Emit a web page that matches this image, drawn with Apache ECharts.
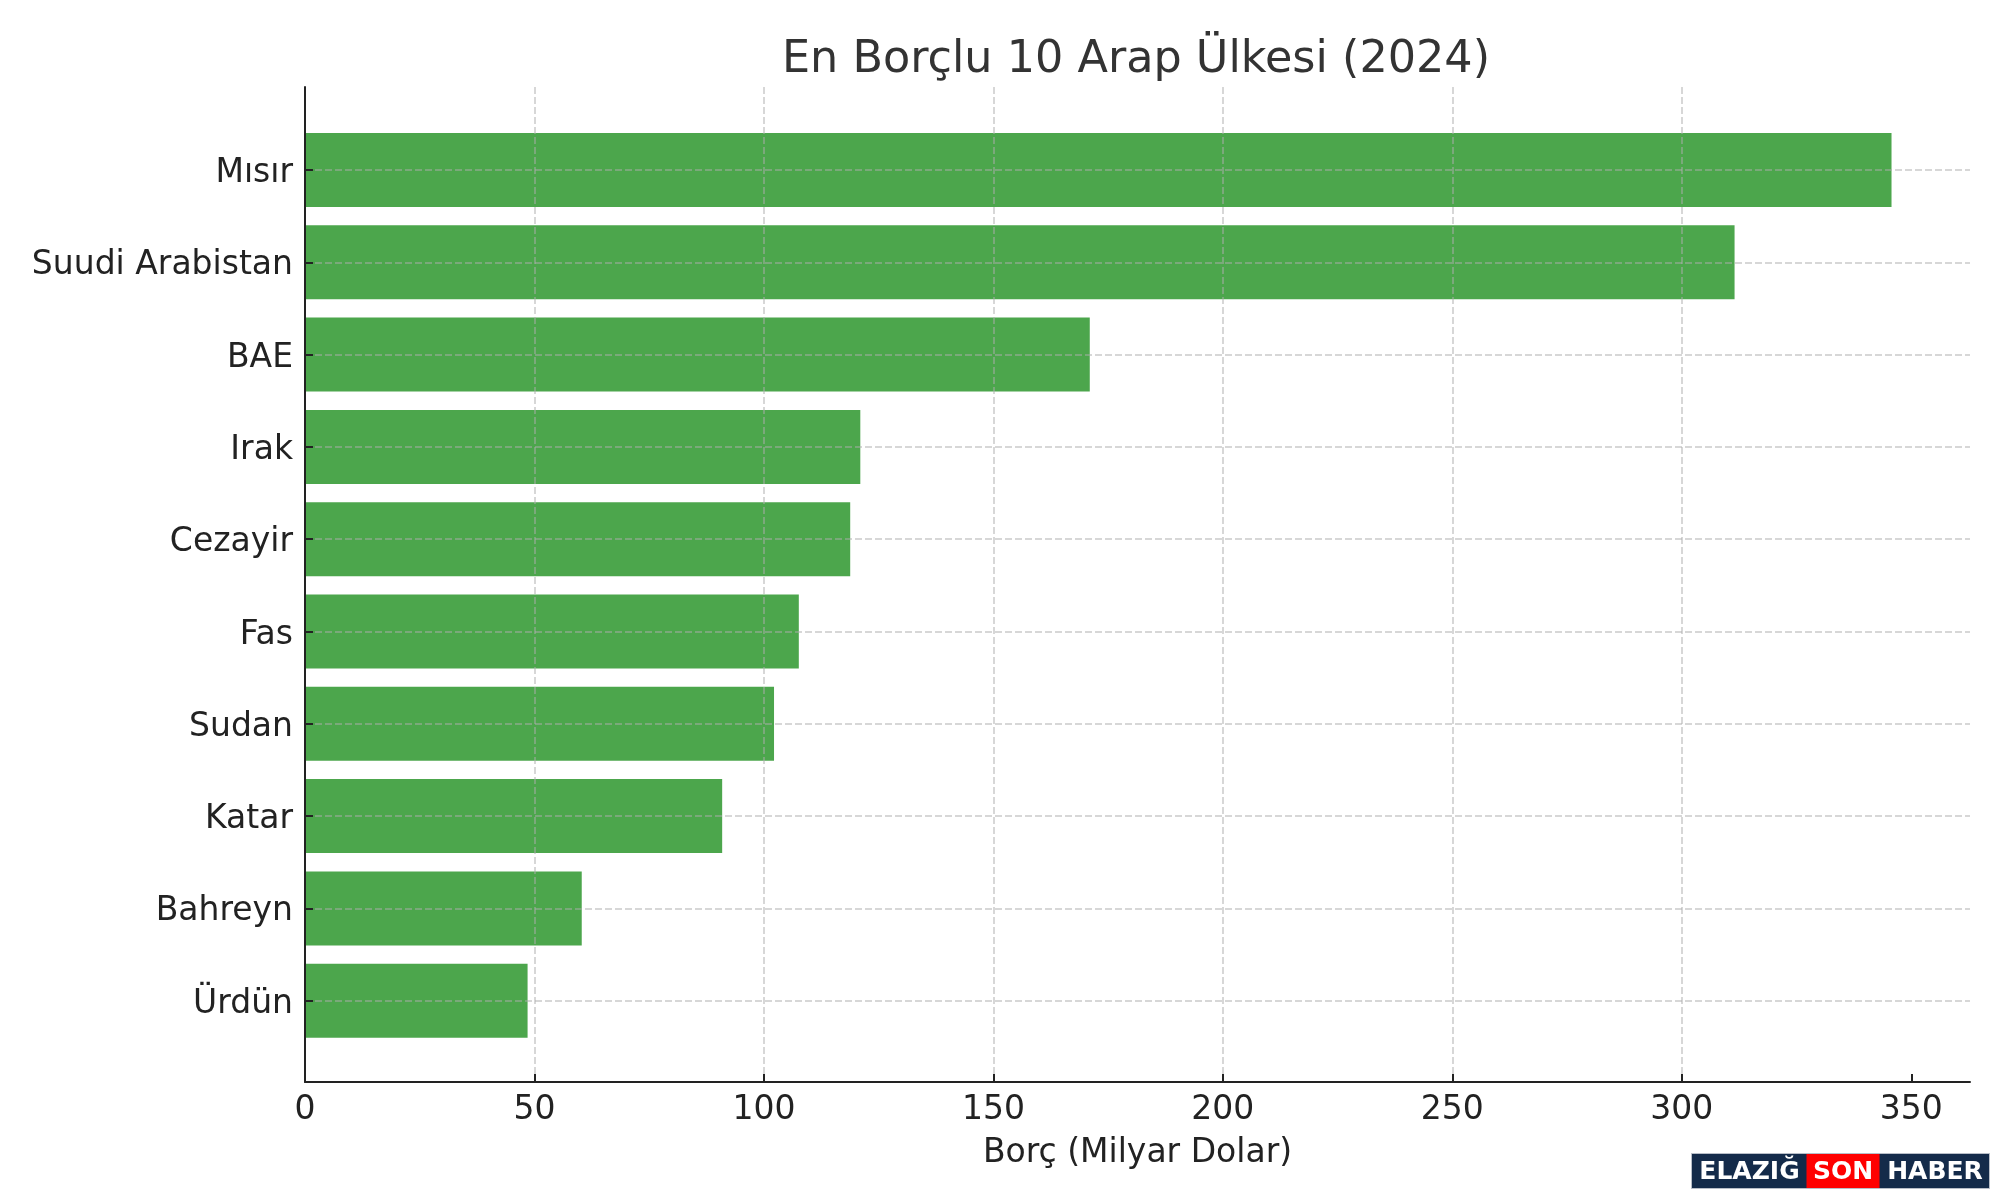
<!DOCTYPE html>
<html>
<head>
<meta charset="utf-8">
<script src="https://cdn.jsdelivr.net/npm/echarts@6/dist/echarts.min.js"></script>
<style>
html,body{margin:0;padding:0;background:#fff;}
#chart{width:2000px;height:1200px;}
</style>
</head>
<body>
<div id="chart"></div>
<script>
const titleText = 'En Borçlu 10 Arap Ülkesi (2024)';
const xAxisName = 'Borç (Milyar Dolar)';
const categories = ['Mısır', 'Suudi Arabistan', 'BAE', 'Irak', 'Cezayir', 'Fas', 'Sudan', 'Katar', 'Bahreyn', 'Ürdün'];
const debtValues = [345.7, 311.5, 171.0, 121.0, 118.8, 107.6, 102.2, 90.9, 60.3, 48.5];
const xTicks = [0, 50, 100, 150, 200, 250, 300, 350];
const xMax = 362.8;

const FONT = 'DejaVu Sans';
const gridColor = 'rgba(175,175,175,0.65)';

const chart = echarts.init(document.getElementById('chart'));
chart.setOption({
  animation: false,
  backgroundColor: '#ffffff',
  textStyle: { fontFamily: FONT },
  title: {
    text: titleText,
    left: 1131,
    top: 33,
    textAlign: 'center',
    textStyle: { fontFamily: FONT, fontSize: 44.5, fontWeight: 'normal', color: '#333333' }
  },
  grid: [
    { left: 305, right: 30, top: 170, bottom: 199.3, containLabel: false },
    { left: 305, right: 30, top: 87, bottom: 118, containLabel: false }
  ],
  xAxis: [
    {
      gridIndex: 0, type: 'value', min: 0, max: xMax,
      show: false
    },
    {
      gridIndex: 1, type: 'value', min: 0, max: xMax, z: 3,
      name: xAxisName, nameLocation: 'middle', nameGap: 55,
      nameTextStyle: { fontFamily: FONT, fontSize: 33, color: '#222222' },
      axisLine: { show: true, onZero: false, lineStyle: { color: '#222222', width: 2 } },
      axisTick: { show: true, inside: true, length: 8, customValues: xTicks, lineStyle: { color: '#222222', width: 2 } },
      axisLabel: { show: true, customValues: xTicks, fontFamily: FONT, fontSize: 33, color: '#222222', margin: 12 },
      splitLine: { show: true, showMaxLine: false, showMinLine: false, lineStyle: { color: gridColor, width: 1.5, type: [7, 3] } }
    }
  ],
  yAxis: [
    {
      gridIndex: 0, type: 'category', data: categories, inverse: true, boundaryGap: false, z: 3,
      axisLine: { show: false },
      axisTick: { show: true, inside: true, length: 8, interval: 0, lineStyle: { color: '#222222', width: 2 } },
      axisLabel: {
        show: true, interval: 0, margin: 12,
        formatter: function (v) { return '{l|' + v + '}'; },
        rich: { l: { fontFamily: FONT, fontSize: 33, color: '#222222', padding: [7, 0, 0, 0] } }
      },
      splitLine: { show: true, interval: 0, lineStyle: { color: gridColor, width: 1.5, type: [7, 3] } }
    },
    {
      gridIndex: 1, type: 'value', min: 0, max: 1, z: 3,
      axisLine: { show: true, onZero: false, lineStyle: { color: '#222222', width: 2 } },
      axisTick: { show: false },
      axisLabel: { show: false },
      splitLine: { show: false }
    }
  ],
  series: [
    {
      type: 'bar',
      xAxisIndex: 0,
      yAxisIndex: 0,
      data: debtValues,
      barWidth: 74,
      clip: false,
      itemStyle: { color: '#4ca64c' },
      z: 2
    }
  ],
  graphic: [
    {
      type: 'group', left: 1691, top: 1153,
      children: [
        { type: 'rect', shape: { x: 0, y: 0, width: 298, height: 35 }, style: { fill: '#142b4a', stroke: '#b8bec8', lineWidth: 1 } },
        { type: 'rect', shape: { x: 115, y: 0.5, width: 73, height: 34 }, style: { fill: '#ff0000' } },
        { type: 'text', x: 58, y: 18.5, style: { text: 'ELAZIĞ', fill: '#ffffff', font: 'bold 25px "DejaVu Sans"', textAlign: 'center', textVerticalAlign: 'middle' } },
        { type: 'text', x: 151.5, y: 18.5, style: { text: 'SON', fill: '#ffffff', font: 'bold 25px "DejaVu Sans"', textAlign: 'center', textVerticalAlign: 'middle' } },
        { type: 'text', x: 243.5, y: 18.5, style: { text: 'HABER', fill: '#ffffff', font: 'bold 25px "DejaVu Sans"', textAlign: 'center', textVerticalAlign: 'middle' } }
      ]
    }
  ]
});
</script>
</body>
</html>
